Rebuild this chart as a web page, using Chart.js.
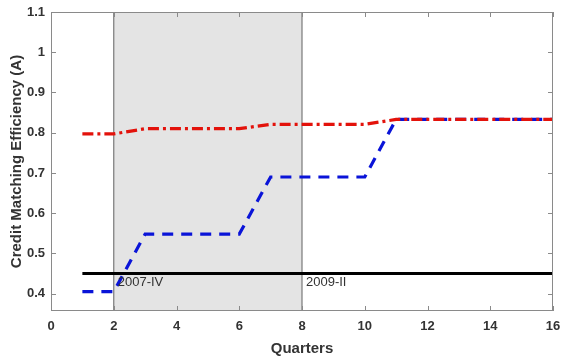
<!DOCTYPE html>
<html><head><meta charset="utf-8">
<script src="https://cdn.jsdelivr.net/npm/chart.js@4/dist/chart.umd.min.js"></script>
<style>html,body{margin:0;padding:0;background:#fff}canvas{display:block}</style>
</head><body>
<canvas id="c" width="561" height="358"></canvas>
<script>
const quarters = [1,2,3,4,5,6,7,8,9,10,11,12,13,14,15,16];
const redSeries = [0.797,0.797,0.81,0.81,0.81,0.81,0.821,0.821,0.821,0.821,0.833,0.833,0.833,0.833,0.833,0.833];
const blueSeries = [0.405,0.405,0.548,0.548,0.548,0.548,0.69,0.69,0.69,0.69,0.833,0.833,0.833,0.833,0.833,0.833];
const blackSeries = [0.45,0.45,0.45,0.45,0.45,0.45,0.45,0.45,0.45,0.45,0.45,0.45,0.45,0.45,0.45,0.45];
const xTicks = [0,2,4,6,8,10,12,14,16];
const yTicks = [0.4,0.5,0.6,0.7,0.8,0.9,1.0,1.1];
const yTickLabels = ['0.4','0.5','0.6','0.7','0.8','0.9','1','1.1'];
const shadeRange = [2,8];
const eventLabels = [{x:2, text:'2007-IV'},{x:8, text:'2009-II'}];
const eventLabelY = 0.427;

const pts = arr => quarters.map((q,i)=>({x:q,y:arr[i]}));
const FONT = '"Liberation Sans", Arial, sans-serif';

const decor = {
  id:'decor',
  beforeDatasetsDraw(chart){
    const {ctx, chartArea:a, scales:{x,y}} = chart;
    const x0 = x.getPixelForValue(shadeRange[0]), x1 = x.getPixelForValue(shadeRange[1]);
    ctx.save();
    ctx.fillStyle = '#e4e4e4';
    ctx.fillRect(x0, a.top, x1-x0, a.bottom-a.top);
    ctx.strokeStyle = '#7a7a7a'; ctx.lineWidth = 1.2;
    ctx.beginPath();
    ctx.moveTo(x0, a.top); ctx.lineTo(x0, a.bottom);
    ctx.moveTo(x1, a.top); ctx.lineTo(x1, a.bottom);
    ctx.stroke();
    ctx.restore();
  },
  afterDatasetsDraw(chart){
    const {ctx, chartArea:a, scales:{x,y}} = chart;
    ctx.save();
    ctx.strokeStyle = '#8a8a8a'; ctx.lineWidth = 1;
    ctx.strokeRect(a.left+0.5, a.top+0.5, a.right-a.left-1, a.bottom-a.top-1);
    ctx.beginPath();
    xTicks.forEach(v=>{ const px=Math.round(x.getPixelForValue(v))+0.5;
      ctx.moveTo(px,a.bottom); ctx.lineTo(px,a.bottom-5);
      ctx.moveTo(px,a.top); ctx.lineTo(px,a.top+5); });
    yTicks.forEach(v=>{ const py=Math.round(y.getPixelForValue(v))+0.5;
      ctx.moveTo(a.left,py); ctx.lineTo(a.left+5,py);
      ctx.moveTo(a.right,py); ctx.lineTo(a.right-5,py); });
    ctx.stroke();
    ctx.fillStyle = '#333'; ctx.font = '13px ' + FONT;
    ctx.textBaseline = 'middle'; ctx.textAlign = 'left';
    eventLabels.forEach(l=>{ ctx.fillText(l.text, x.getPixelForValue(l.x)+4, y.getPixelForValue(eventLabelY)); });
    ctx.restore();
  }
};

new Chart(document.getElementById('c'), {
  type:'line',
  data:{ datasets:[
    {label:'red', data:pts(redSeries), borderColor:'#e3120b', borderWidth:3.2, borderDash:[11,4,3,4], pointRadius:0, order:0, tension:0},
    {label:'blue', data:pts(blueSeries), borderColor:'#0a14d8', borderWidth:3.2, borderDash:[11,8], pointRadius:0, order:1, tension:0},
    {label:'black', data:pts(blackSeries), borderColor:'#000', borderWidth:3, pointRadius:0, order:2, tension:0}
  ]},
  plugins:[decor],
  options:{
    responsive:false, animation:false, devicePixelRatio:1,
    layout:{padding:{left:0,right:8,top:12,bottom:0}},
    plugins:{legend:{display:false}, tooltip:{enabled:false}},
    scales:{
      x:{type:'linear', min:0, max:16,
        afterBuildTicks(s){ s.ticks = xTicks.map(v=>({value:v})); },
        afterFit(s){ s.height = 47; s.paddingLeft = 0; s.paddingRight = 0; },
        grid:{display:false, drawTicks:false}, border:{display:false},
        ticks:{padding:8, color:'#333', font:{family:FONT, size:13, weight:'bold'}},
        title:{display:true, text:'Quarters', color:'#333', padding:{top:1,bottom:0}, font:{family:FONT, size:15, weight:'bold'}}
      },
      y:{type:'linear', min:0.357, max:1.1,
        afterBuildTicks(s){ s.ticks = yTicks.map(v=>({value:v})); },
        afterFit(s){ s.width = 51; s.paddingTop = 0; s.paddingBottom = 0; },
        grid:{display:false, drawTicks:false}, border:{display:false},
        ticks:{padding:6, color:'#333', font:{family:FONT, size:13, weight:'bold'},
          callback:(v)=>{ const i = yTicks.findIndex(t=>Math.abs(t-v)<1e-9); return i>=0?yTickLabels[i]:''; }},
        title:{display:true, text:'Credit Matching Efficiency (A)', color:'#333', padding:{top:8,bottom:0}, font:{family:FONT, size:15, weight:'bold'}}
      }
    }
  }
});
</script>
</body></html>
